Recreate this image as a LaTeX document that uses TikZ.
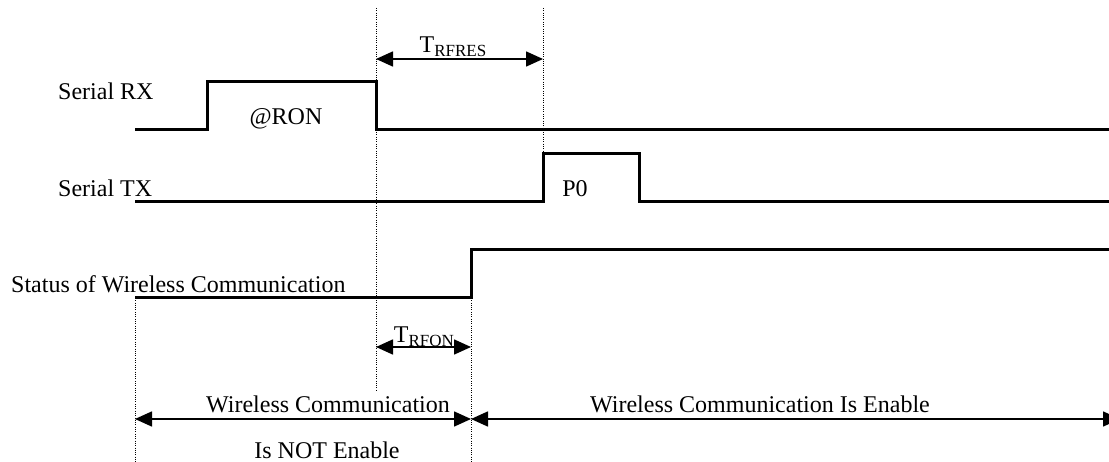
\documentclass[tikz,border=0pt]{standalone}
\usepackage{fontspec}
\setmainfont{Liberation Serif}
\usetikzlibrary{arrows.meta}

\begin{document}
\begin{tikzpicture}[x=1pt, y=-1pt,
  signal/.style={line width=3pt},
  guide/.style={dash pattern=on 1pt off 1.3pt, line width=0.9pt},
  span/.style={line width=1.6pt,
    {Triangle[length=17pt,width=15pt]}-{Triangle[length=17pt,width=15pt]}},
  lbl/.style={font=\fontsize{24}{28}\selectfont, inner sep=0pt, anchor=base}]
\clip (0,0) rectangle (1109,462);
% waveforms
\draw[signal] (135,130) -- (207,130) -- (207,82) -- (376,82) -- (376,130) -- (1109,130);
\draw[signal] (135,202) -- (543,202) -- (543,154) -- (639,154) -- (639,202) -- (1109,202);
\draw[signal] (135,298) -- (471,298) -- (471,250) -- (1109,250);
% dotted guides
\draw[guide] (376,8) -- (376,392);
\draw[guide] (543,8) -- (543,154);
\draw[guide] (135,298) -- (135,462);
\draw[guide] (471,298) -- (471,462);
% labels
\node[lbl, anchor=base west] (rxlabel) at (58,100) {Serial RX};
\node[lbl, anchor=base west] (txlabel) at (58,197) {Serial TX};
\node[lbl, anchor=base west] (statuslabel) at (11,293) {Status of Wireless Communication};
\node[lbl] (ron) at (286,125) {@RON};
\node[lbl] (pzero) at (575,197) {P0};
\node[lbl] (tres) at (453,53) {T\raisebox{-4pt}{\fontsize{17}{17}\selectfont RFRES}};
\node[lbl] (ton) at (424,343) {T\raisebox{-4pt}{\fontsize{17}{17}\selectfont RFON}};
\node[lbl] (offtop) at (328,412) {Wireless Communication};
\node[lbl] (offbottom) at (327,458) {Is NOT Enable};
\node[lbl] (enable) at (760,413) {Wireless Communication Is Enable};
% spans
\coordinate (resa) at (376,59);
\coordinate (resb) at (543,59);
\coordinate (ona) at (376,347);
\coordinate (onb) at (471,347);
\coordinate (offa) at (135,419);
\coordinate (offb) at (471,419);
\coordinate (ena) at (471,419);
\coordinate (enb) at (1120,419);
\draw[span] (resa) -- (resb);
\draw[span] (ona) -- (onb);
\draw[span] (offa) -- (offb);
\draw[span] (ena) -- (enb);
\end{tikzpicture}
\end{document}
